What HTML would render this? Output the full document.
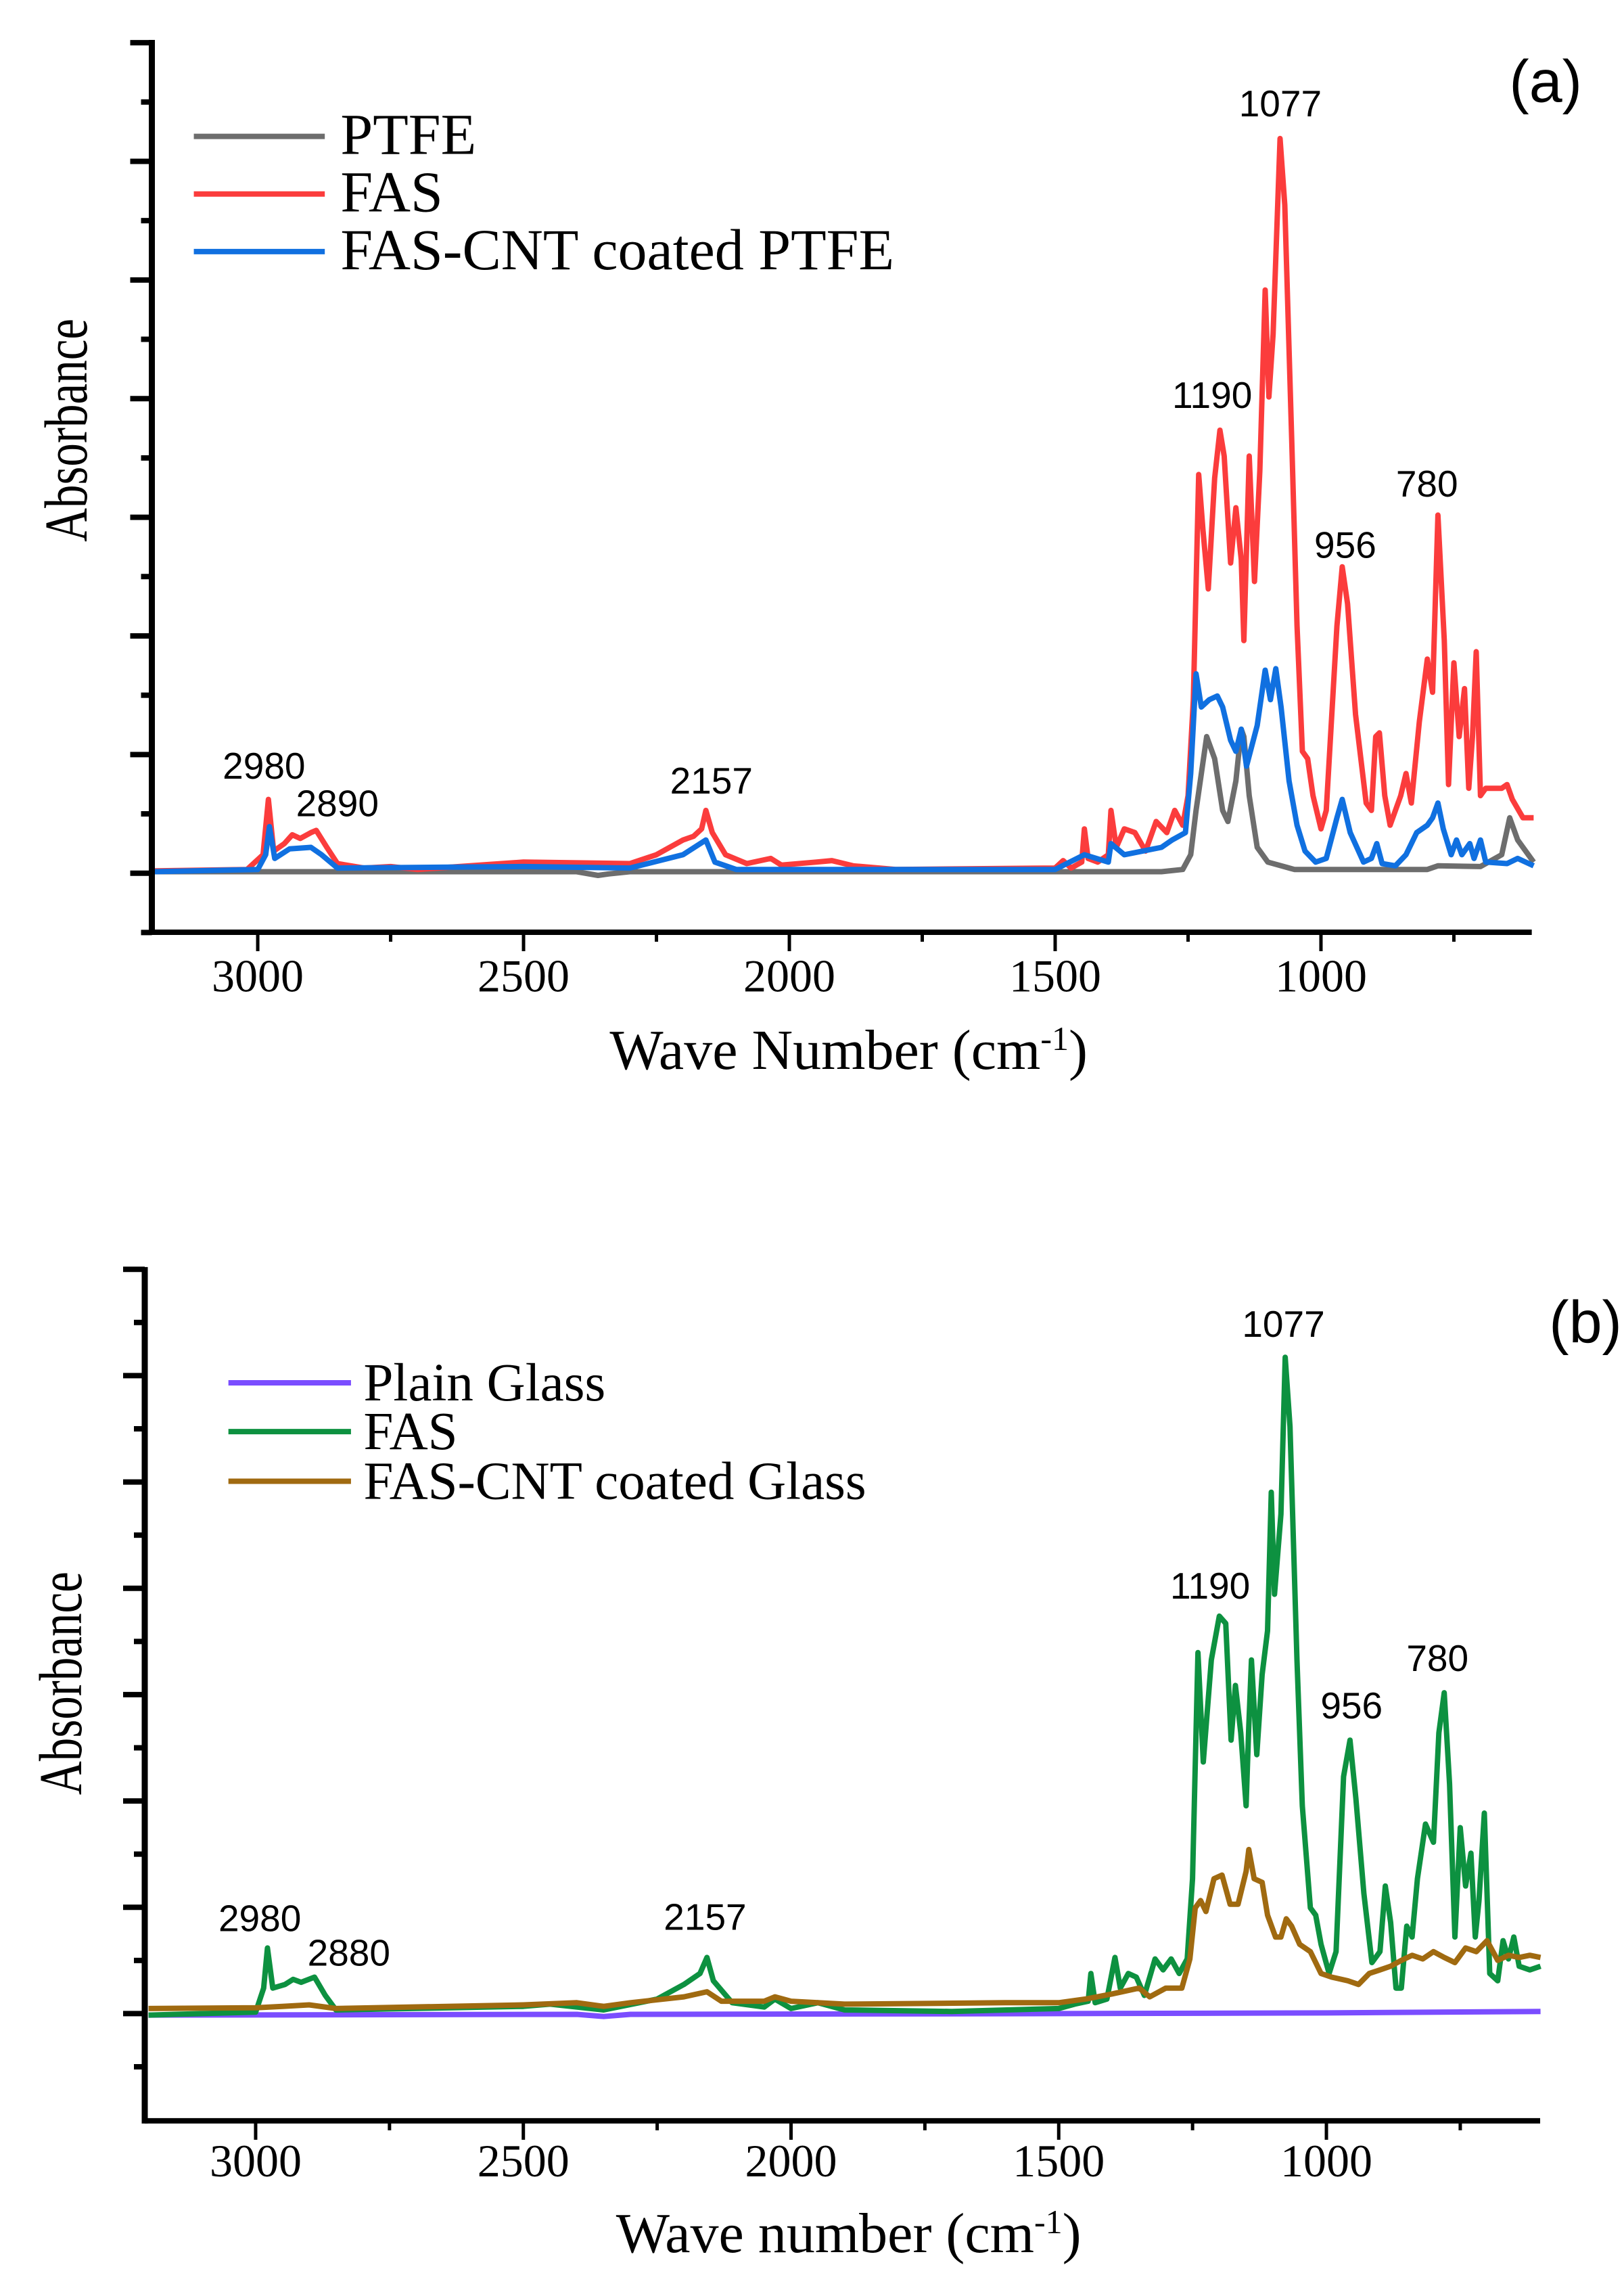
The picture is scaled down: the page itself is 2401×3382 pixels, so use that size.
<!DOCTYPE html>
<html><head><meta charset="utf-8"><style>
html,body{margin:0;padding:0;background:#fff}
svg{display:block}
</style></head><body>
<svg id="g" width="2401" height="3382" xmlns="http://www.w3.org/2000/svg">
<rect width="2401" height="3382" fill="#fff"/>
</svg>
<script>
const NS="http://www.w3.org/2000/svg";
const G=document.getElementById("g");
function el(p,t,a,txt){const e=document.createElementNS(NS,t);for(const k in a)e.setAttribute(k,a[k]);if(txt!==undefined)e.textContent=txt;p.appendChild(e);return e;}
const SERIF='"Liberation Serif",serif', SANS='"Liberation Sans",sans-serif';
const KX=1.549;
function panel(o){
  const Y=zy=>o.off+zy*o.ay, X=zx=>zx*KX;
  const {ax,top,bot,right,x3000,per500,base,step}=o;
  const px=w=>X(x3000+(3000-w)*per500/500);
  for(const s of o.series){
    let d="";const pts=s.p;
    for(let i=0;i<pts.length;i+=2){d+=(i?"L":"M")+px(pts[i]).toFixed(1)+","+Y(pts[i+1]).toFixed(1);}
    el(G,"path",{d:d,fill:"none",stroke:s.c,"stroke-width":8,"stroke-linejoin":"round"});
  }
  const AX=o.axr;
  el(G,"line",{x1:AX,x2:AX,y1:Y(top)-4,y2:Y(bot)+4,stroke:"#000","stroke-width":9});
  el(G,"line",{x1:AX,x2:X(right),y1:Y(bot),y2:Y(bot),stroke:"#000","stroke-width":8});
  let i=0;
  for(let y=base;y>=top-1;y-=step/2,i++){
    el(G,"line",{x1:AX-4-(i%2?12:28),x2:AX,y1:Y(y),y2:Y(y),stroke:"#000","stroke-width":8});
  }
  el(G,"line",{x1:AX-16,x2:AX,y1:Y(base+step/2),y2:Y(base+step/2),stroke:"#000","stroke-width":8});
  for(let w=3000;w>=600;w-=250){
    const maj=(w%500===0);
    el(G,"line",{x1:px(w),x2:px(w),y1:Y(bot),y2:Y(bot)+(maj?28:14),stroke:"#000","stroke-width":5});
    if(maj) el(G,"text",{x:px(w),y:Y(o.lab),"text-anchor":"middle","font-family":SERIF,"font-size":68},String(w));
  }
  const tt=el(G,"text",{x:X(810),y:Y(o.title),"text-anchor":"middle","font-family":SERIF,"font-size":84});
  tt.innerHTML=o.tname+' (cm<tspan dy="-28" font-size="50">-1</tspan><tspan dy="28">)</tspan>';
  el(G,"text",{x:0,y:0,"font-family":SERIF,"font-size":90,"text-anchor":"middle",textLength:330,lengthAdjust:"spacingAndGlyphs",transform:`translate(${o.ylx},${Y(o.yly)}) rotate(-90)`},"Absorbance");
  o.leg.forEach(l=>{
    el(G,"line",{x1:X(l.x1),x2:X(l.x2),y1:Y(l.y),y2:Y(l.y),stroke:l.c,"stroke-width":8});
    el(G,"text",{x:X(l.tx),y:Y(l.y)+26,"font-family":SERIF,"font-size":o.lfs},l.t);
  });
  for(const a of o.ann) el(G,"text",{x:X(a[1]),y:Y(a[2]),"font-family":SANS,"font-size":55,"text-anchor":"middle"},a[0]);
  el(G,"text",{x:X(o.lbl[1]),y:Y(o.lbl[2]),"font-family":SANS,"font-size":88,"text-anchor":"end"},o.lbl[0]);
}
const redA=[3200,1182,3020,1180,2990,1160,2980,1085,2970,1155,2950,1145,2935,1133,2920,1138,2900,1130,2890,1127,2870,1150,2850,1172,2800,1178,2750,1176,2700,1180,2500,1170,2300,1172,2250,1160,2200,1140,2180,1135,2165,1125,2157,1100,2145,1130,2120,1160,2080,1172,2035,1165,2015,1174,1950,1170,1920,1168,1880,1175,1800,1180,1500,1178,1485,1168,1470,1178,1450,1170,1445,1125,1438,1165,1420,1170,1400,1160,1395,1100,1385,1150,1370,1125,1350,1130,1330,1155,1310,1115,1290,1130,1275,1100,1260,1120,1250,1080,1240,950,1230,645,1222,720,1212,800,1200,650,1190,585,1182,620,1170,765,1160,690,1150,760,1145,870,1135,620,1125,790,1115,640,1105,395,1098,540,1090,455,1077,190,1068,280,1055,600,1045,850,1035,1020,1025,1030,1015,1080,1000,1125,990,1100,970,850,960,770,950,820,935,970,915,1090,905,1100,897,1000,890,995,880,1080,870,1120,850,1080,840,1050,830,1090,815,980,800,895,790,940,780,700,768,870,760,1065,750,900,740,1000,730,935,722,1070,715,1000,708,885,700,1080,690,1070,675,1070,660,1070,650,1065,640,1085,620,1110,600,1110];
const blueA=[3200,1183,3000,1180,2985,1160,2978,1122,2968,1165,2940,1152,2900,1150,2880,1160,2850,1178,2500,1176,2300,1178,2200,1160,2157,1140,2140,1170,2100,1180,1500,1180,1445,1160,1400,1170,1395,1145,1370,1160,1300,1150,1280,1140,1255,1130,1245,1050,1235,915,1225,960,1210,950,1195,945,1185,960,1170,1005,1160,1020,1150,990,1140,1040,1120,985,1105,910,1095,950,1085,908,1075,960,1060,1060,1045,1120,1030,1155,1010,1170,990,1165,970,1110,960,1085,945,1130,920,1170,905,1165,895,1145,885,1172,860,1175,840,1160,820,1130,800,1120,790,1110,780,1090,770,1125,755,1160,745,1140,735,1160,720,1145,712,1165,700,1140,690,1170,650,1172,630,1165,600,1175];
const grayA=[3200,1183,2400,1183,2360,1188,2340,1186,2300,1183,1300,1183,1260,1180,1245,1160,1235,1100,1215,1000,1200,1030,1185,1100,1175,1115,1160,1060,1150,990,1145,1000,1135,1080,1120,1150,1100,1170,1050,1180,800,1180,780,1175,700,1176,660,1160,645,1110,630,1140,600,1170];
const greenB=[3200,1187,3000,1183,2985,1150,2978,1095,2968,1150,2945,1145,2930,1138,2915,1142,2890,1135,2870,1160,2850,1180,2500,1175,2450,1172,2350,1180,2250,1165,2200,1145,2170,1130,2157,1108,2145,1140,2110,1170,2050,1176,2030,1165,2000,1178,1950,1170,1900,1180,1700,1182,1500,1178,1470,1172,1445,1168,1440,1130,1432,1170,1410,1165,1395,1108,1385,1150,1370,1130,1355,1135,1340,1160,1320,1110,1305,1125,1290,1110,1275,1130,1260,1110,1250,1000,1240,690,1230,840,1215,700,1200,640,1188,650,1178,810,1170,735,1160,800,1150,900,1145,790,1140,700,1130,830,1120,720,1110,660,1103,470,1097,610,1085,500,1077,285,1068,380,1055,700,1045,900,1030,1040,1020,1050,1010,1090,995,1130,982,1100,968,860,956,810,945,890,930,1020,915,1115,900,1100,890,1010,880,1060,870,1150,860,1150,850,1065,840,1080,830,1000,815,925,800,950,790,800,780,745,770,870,760,1080,750,930,740,1010,730,965,722,1080,715,1030,705,910,695,1130,680,1140,670,1085,660,1110,650,1080,640,1120,620,1125,600,1120];
const brownB=[3200,1178,3000,1177,2950,1175,2900,1173,2850,1178,2500,1173,2400,1170,2350,1175,2300,1170,2200,1162,2157,1155,2130,1168,2050,1168,2030,1162,2000,1168,1950,1170,1900,1172,1600,1170,1500,1170,1450,1165,1400,1158,1350,1150,1330,1162,1300,1150,1270,1150,1255,1110,1245,1040,1235,1030,1225,1045,1210,1000,1195,995,1180,1035,1165,1035,1150,990,1145,960,1135,1000,1120,1005,1110,1050,1095,1080,1085,1080,1075,1055,1065,1065,1050,1090,1030,1100,1010,1130,990,1135,960,1140,940,1145,920,1130,900,1125,880,1120,860,1112,840,1105,820,1110,800,1100,780,1108,760,1115,740,1095,720,1100,700,1085,680,1112,660,1105,640,1108,620,1105,600,1108];
const purpB=[3200,1187,2400,1186,2350,1189,2300,1186,1500,1185,1000,1184,600,1182];
panel({off:-2.5,ay:1.0913,axr:224.5,top:60,bot:1265,right:1462,x3000:246,per500:253.7,base:1185,step:160.7,lab:1345,title:1450,tname:"Wave Number",ylx:128,yly:585,lfs:86,
 series:[{c:"#6d6d6d",p:grayA},{c:"#fb3c3c",p:redA},{c:"#1070e0",p:blueA}],
 leg:[{x1:185,x2:310,y:187,tx:325,t:"PTFE",c:"#6d6d6d"},{x1:185,x2:310,y:265,tx:325,t:"FAS",c:"#fb3c3c"},{x1:185,x2:310,y:343,tx:325,t:"FAS-CNT coated PTFE",c:"#1070e0"}],
 ann:[["1077",1222,160],["1190",1157,555],["956",1284,758],["780",1362,675],["2980",252,1057],["2890",322,1108],["2157",679,1077]],lbl:["(a)",1510,140]});
panel({off:1699,ay:1.078,axr:214,top:165,bot:1332,right:1470,x3000:244,per500:255.5,base:1185,step:145.8,lab:1408,title:1512,tname:"Wave number",ylx:120,yly:732,lfs:79,
 series:[{c:"#7a4dff",p:purpB},{c:"#0d9140",p:greenB},{c:"#a06a10",p:brownB}],
 leg:[{x1:218,x2:335,y:320,tx:347,t:"Plain Glass",c:"#7a4dff"},{x1:218,x2:335,y:387,tx:347,t:"FAS",c:"#0d9140"},{x1:218,x2:335,y:455,tx:347,t:"FAS-CNT coated Glass",c:"#a06a10"}],
 ann:[["1077",1225,257],["1190",1155,616],["956",1290,780],["780",1372,715],["2980",248,1072],["2880",333,1119],["2157",673,1070]],lbl:["(b)",1548,265]});
</script>
</body></html>
